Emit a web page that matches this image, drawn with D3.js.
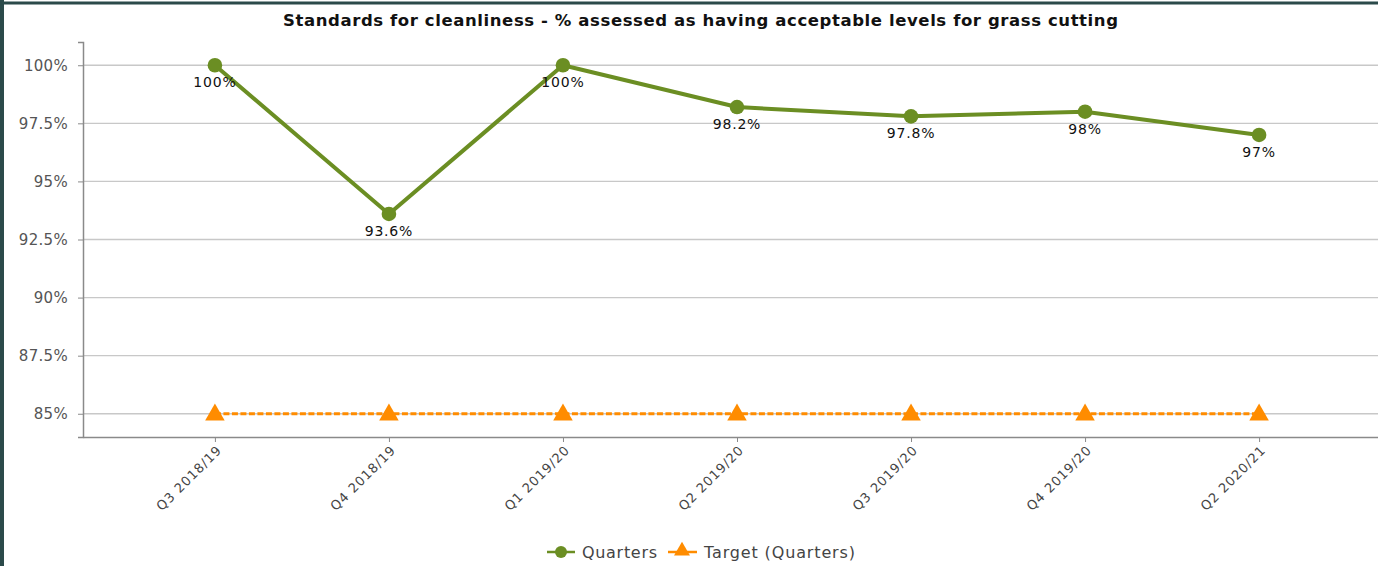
<!DOCTYPE html>
<html>
<head>
<meta charset="utf-8">
<script src="https://cdn.jsdelivr.net/npm/d3@7"></script>
<style>
  html, body { margin: 0; padding: 0; background: #fff; }
  svg { display: block; }
  text { font-family: "DejaVu Sans", Verdana, sans-serif; }
</style>
</head>
<body>
<svg id="chart" width="1378" height="566"></svg>
<script>
// Quarterly grass-cutting cleanliness results against target
const quarters = ["Q3 2018/19", "Q4 2018/19", "Q1 2019/20", "Q2 2019/20", "Q3 2019/20", "Q4 2019/20", "Q2 2020/21"];
const actualValues = [100, 93.6, 100, 98.2, 97.8, 98, 97];
const targetValues = [85, 85, 85, 85, 85, 85, 85];
const yTicks = [85, 87.5, 90, 92.5, 95, 97.5, 100];
const titleText = "Standards for cleanliness - % assessed as having acceptable levels for grass cutting";
const seriesNames = ["Quarters", "Target (Quarters)"];

const W = 1378, H = 566;
const margin = { top: 42, right: -13, bottom: 129, left: 83 };
const green = "#6b8e23", orange = "#ff8c00";

const svg = d3.select("#chart");

// outer frame
svg.append("line").attr("x1", 0).attr("x2", W).attr("y1", 3).attr("y2", 3)
  .attr("stroke", "#2b4a4a").attr("stroke-width", 3);
svg.append("line").attr("x1", 2).attr("x2", 2).attr("y1", 0).attr("y2", H)
  .attr("stroke", "#2b4a4a").attr("stroke-width", 4);

const x = d3.scalePoint().domain(quarters)
  .range([margin.left, W - margin.right]).padding(0.758);
const y = d3.scaleLinear().domain([84, 101]).range([H - margin.bottom, margin.top]);

// title
svg.append("text")
  .attr("x", 283).attr("y", 26)
  .attr("font-weight", "bold").attr("font-size", 16.5)
  .attr("fill", "#111")
  .attr("textLength", 835).attr("lengthAdjust", "spacing")
  .text(titleText);

// gridlines
svg.append("g").selectAll("line").data(yTicks).join("line")
  .attr("x1", margin.left).attr("x2", W)
  .attr("y1", d => y(d)).attr("y2", d => y(d))
  .attr("stroke", "#c8c8c8").attr("stroke-width", 1.3);

// y axis
const yAxis = svg.append("g")
  .attr("transform", `translate(${margin.left},0)`)
  .call(d3.axisLeft(y).tickValues(yTicks).tickSize(5).tickPadding(10)
    .tickFormat(d => d + "%"));
yAxis.select(".domain").attr("stroke", "#8a8a8a").attr("stroke-width", 1.5);
yAxis.selectAll(".tick line").attr("stroke", "#8a8a8a");
yAxis.selectAll(".tick text").attr("font-size", 15).attr("fill", "#555")
  .attr("letter-spacing", 0.3)
  .attr("font-family", "'DejaVu Sans', sans-serif");

// x axis
const xAxis = svg.append("g")
  .attr("transform", `translate(0,${H - margin.bottom})`)
  .call(d3.axisBottom(x).tickSize(5).tickSizeOuter(0));
xAxis.select(".domain").attr("stroke", "#8a8a8a").attr("stroke-width", 1.5);
xAxis.selectAll(".tick line").attr("stroke", "#8a8a8a");
xAxis.selectAll(".tick text")
  .attr("font-size", 13).attr("fill", "#444")
  .attr("letter-spacing", 0.9)
  .attr("font-family", "'DejaVu Sans', sans-serif")
  .attr("text-anchor", "end")
  .attr("dy", 0).attr("y", 0)
  .attr("transform", "translate(7,14) rotate(-45)");

// target series
svg.append("path")
  .datum(targetValues)
  .attr("fill", "none").attr("stroke", orange).attr("stroke-width", 3)
  .attr("stroke-dasharray", "6,2.5")
  .attr("d", d3.line().x((d, i) => x(quarters[i])).y(d => y(d)));
const tri = d3.symbol().type(d3.symbolTriangle).size(165);
svg.append("g").selectAll("path").data(targetValues).join("path")
  .attr("d", tri)
  .attr("transform", (d, i) => `translate(${x(quarters[i])},${y(d) + 1})`)
  .attr("fill", orange);

// actual series
svg.append("path")
  .datum(actualValues)
  .attr("fill", "none").attr("stroke", green).attr("stroke-width", 4)
  .attr("stroke-linejoin", "round")
  .attr("d", d3.line().x((d, i) => x(quarters[i])).y(d => y(d)));
svg.append("g").selectAll("circle").data(actualValues).join("circle")
  .attr("cx", (d, i) => x(quarters[i])).attr("cy", d => y(d))
  .attr("r", 7.3).attr("fill", green);

// value labels under points
svg.append("g").selectAll("text").data(actualValues).join("text")
  .attr("x", (d, i) => x(quarters[i])).attr("y", d => y(d) + 22)
  .attr("text-anchor", "middle")
  .attr("font-size", 14).attr("fill", "#111")
  .attr("letter-spacing", 0.8)
  .text(d => d + "%");

// legend
const legendY = 552;
const lg = svg.append("g");
lg.append("line").attr("x1", 547).attr("x2", 575).attr("y1", legendY).attr("y2", legendY)
  .attr("stroke", green).attr("stroke-width", 2.5);
lg.append("circle").attr("cx", 561).attr("cy", legendY).attr("r", 6).attr("fill", green);
lg.append("text").attr("x", 582).attr("y", legendY + 6)
  .attr("font-size", 16).attr("fill", "#444")
  .attr("textLength", 75).attr("lengthAdjust", "spacing")
  .text(seriesNames[0]);
lg.append("line").attr("x1", 668).attr("x2", 697).attr("y1", legendY).attr("y2", legendY)
  .attr("stroke", orange).attr("stroke-width", 2.5);
lg.append("path").attr("d", d3.symbol().type(d3.symbolTriangle).size(110))
  .attr("transform", `translate(682,${legendY - 1})`).attr("fill", orange);
lg.append("text").attr("x", 704).attr("y", legendY + 6)
  .attr("font-size", 16).attr("fill", "#444")
  .attr("textLength", 151).attr("lengthAdjust", "spacing")
  .text(seriesNames[1]);
</script>
</body>
</html>
